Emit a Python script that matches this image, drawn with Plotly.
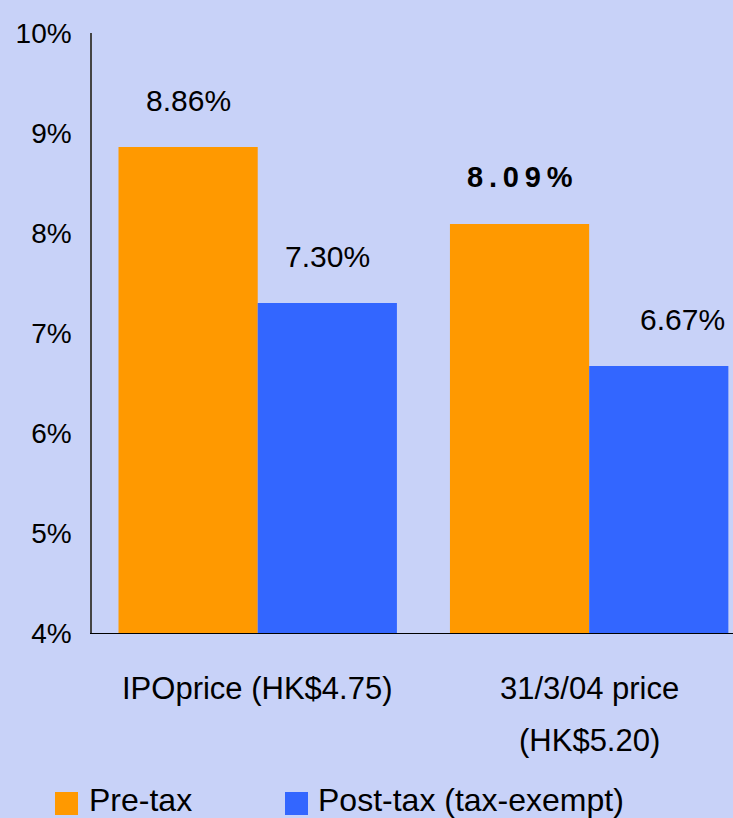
import plotly.graph_objects as go

categories = ["IPOprice (HK$4.75)", "31/3/04 price<br>(HK$5.20)"]
series_names = ["Pre-tax", "Post-tax (tax-exempt)"]
pre_tax = [8.86, 8.09]
post_tax = [7.30, 6.67]
y_ticks = [4, 5, 6, 7, 8, 9, 10]

colors = ["#FF9900", "#3366FF"]
bg = "#C8D2F8"
FONT = "Liberation Sans, Arial, sans-serif"

fig = go.Figure()
for name, vals, col in zip(series_names, [pre_tax, post_tax], colors):
    fig.add_trace(go.Bar(x=[0, 1], y=vals, name=name, marker=dict(color=col, line=dict(width=0)),
                         hoverinfo="skip"))

# value labels above bars
half = 0.84 / 4
for s, vals in enumerate([pre_tax, post_tax]):
    for i, v in enumerate(vals):
        txt = f"{v:.2f}%"
        font = dict(family=FONT, size=30, color="black")
        if s == 0 and i == 1:  # the bold, letter-spaced one
            txt = "\u2009".join(txt)
            font = dict(family=FONT, size=29, color="black", weight="bold")
        fig.add_annotation(x=i + (-half if s == 0 else half), y=v, xref="x", yref="y",
                           text=txt, showarrow=False, yshift=47, yanchor="middle",
                           xshift=24 if (s == 1 and i == 1) else 0, font=font)

# category labels
for i, lab in enumerate(categories):
    for k, line in enumerate(lab.split("<br>")):
        fig.add_annotation(x=i, y=0, xref="x", yref="paper", text=line, showarrow=False,
                           yanchor="middle", yshift=-55 - 52 * k,
                           font=dict(family=FONT, size=31, color="black"))

# legend drawn by hand
W, H, L, T = 641.0, 600.0, 92, 33
def px(x): return (x - L) / W
def py(y): return (633 - y) / H

for (x0, tx), col, name in zip([(55, 87), (285, 316)], colors, series_names):
    fig.add_shape(type="rect", xref="paper", yref="paper", x0=px(x0), x1=px(x0 + 23),
                  y0=py(815), y1=py(792), fillcolor=col, line=dict(width=0))
    fig.add_annotation(x=px(tx), y=py(800), xref="paper", yref="paper", text=name,
                       showarrow=False, xanchor="left", yanchor="middle",
                       font=dict(family=FONT, size=32, color="black"))

fig.update_layout(
    width=733, height=818,
    margin=dict(l=92, r=0, t=33, b=185),
    paper_bgcolor=bg, plot_bgcolor=bg,
    barmode="group", bargap=0.16, bargroupgap=0,
    showlegend=False,
    xaxis=dict(range=[-0.5, 1.434], showticklabels=False, showgrid=False, zeroline=False,
               showline=True, linecolor="black", linewidth=1, ticks=""),
    yaxis=dict(range=[4, 10], tickvals=y_ticks, ticktext=[f"{t}%" for t in y_ticks],
               showgrid=False, zeroline=False, showline=True, linecolor="#444", linewidth=1.5,
               ticks="", ticklabelstandoff=13,
               tickfont=dict(family=FONT, size=28, color="black")),
)

fig.write_html("out.html", config={"displayModeBar": False},
               post_script="document.body.style.margin='0';")
